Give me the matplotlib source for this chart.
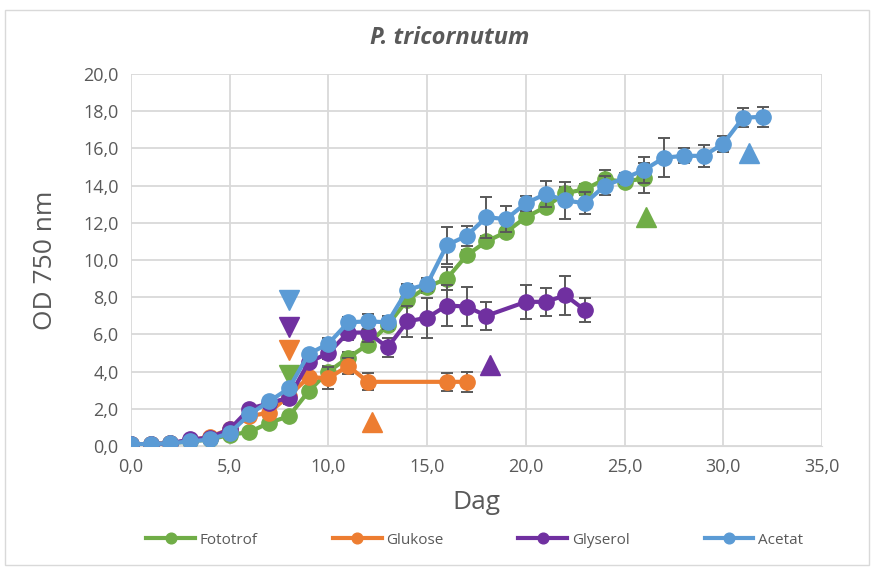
import matplotlib
matplotlib.use("Agg")
import matplotlib.pyplot as plt
from matplotlib.ticker import FuncFormatter, MultipleLocator
from matplotlib.patches import Rectangle

# ---- data ----
foto_x = list(range(0, 27))
foto_y = [0.1, 0.1, 0.15, 0.25, 0.35, 0.6, 0.75, 1.25, 1.6, 2.95, 4.0, 4.75, 5.45, 6.5,
          7.85, 8.55, 9.0, 10.25, 11.0, 11.5, 12.3, 12.85, 13.6, 13.8, 14.35, 14.2, 14.4]
foto_err = [0, 0, 0, 0, 0, 0, 0, 0, 0, 0, 0.3, 0.3, 0.3, 0.3, 0.3, 0.3, 0.6, 0.3, 0.3, 0.2,
            0.2, 0.2, 0.3, 0.3, 0.5, 0.2, 0.8]

gluk_x = [0, 1, 2, 3, 4, 5, 6, 7, 8, 9, 10, 11, 12, 16, 17]
gluk_y = [0.1, 0.1, 0.15, 0.3, 0.5, 0.9, 1.6, 1.8, 2.7, 3.7, 3.65, 4.3, 3.45, 3.45, 3.45]
gluk_err = [0, 0, 0, 0, 0, 0, 0, 0, 0, 0, 0.6, 0.45, 0.45, 0.5, 0.55]

glys_x = list(range(0, 19)) + [20, 21, 22, 23]
glys_y = [0.1, 0.1, 0.15, 0.35, 0.45, 0.9, 2.0, 2.3, 2.6, 4.5, 5.0, 6.1, 6.1, 5.3, 6.7,
          6.9, 7.55, 7.5, 7.0, 7.75, 7.75, 8.1, 7.3]
glys_err = [0, 0, 0, 0, 0, 0, 0, 0, 0.35, 0, 0.3, 0.4, 0.5, 0.5, 0.85, 1.07, 1.1, 1.07,
            0.75, 0.9, 0.75, 1.05, 0.65]

acet_x = list(range(0, 33))
acet_y = [0.1, 0.1, 0.15, 0.25, 0.35, 0.7, 1.7, 2.4, 3.1, 4.95, 5.5, 6.65, 6.7, 6.65, 8.4,
          8.7, 10.8, 11.3, 12.3, 12.2, 13.05, 13.55, 13.2, 13.05, 14.0, 14.4, 14.85, 15.5,
          15.6, 15.6, 16.25, 17.65, 17.7]
acet_err = [0, 0, 0, 0, 0, 0, 0, 0.2, 0.2, 0, 0.3, 0.3, 0.4, 0.35, 0.3, 0.35, 1.0, 0.55,
            1.1, 0.7, 0.4, 0.7, 1.0, 0.6, 0.5, 0.3, 0.7, 1.05, 0.4, 0.6, 0.43, 0.52, 0.55]

# triangle markers (down = addition, up = end)
down_x = [8, 8, 8, 8]
down_y = [3.8, 5.15, 6.4, 7.85]
up_x = [26.1, 12.2, 18.2, 31.3]
up_y = [12.3, 1.3, 4.35, 15.75]

labels = ["Fototrof", "Glukose", "Glyserol", "Acetat"]
colors = ["#70AD47", "#ED7D31", "#7030A0", "#5B9BD5"]

plt.rcParams['font.family'] = ['Open Sans', 'DejaVu Sans']

fig = plt.figure(figsize=(8.76, 5.71), dpi=100)
W, H = 876, 571
ax = fig.add_axes([131 / W, 1 - 446 / H, (822 - 131) / W, (446 - 74) / H])

fig.patches.append(Rectangle((5 / W, 6 / H), 864 / W, 555 / H, transform=fig.transFigure,
                             fill=False, edgecolor="#D9D9D9", linewidth=1))

series = [(foto_x, foto_y, foto_err), (gluk_x, gluk_y, gluk_err),
          (glys_x, glys_y, glys_err), (acet_x, acet_y, acet_err)]
for i, ((xs, ys, es), lab, c) in enumerate(zip(series, labels, colors)):
    ax.errorbar(xs, ys, yerr=es, fmt='none', ecolor="#595959", elinewidth=1.4,
                capsize=4.5, capthick=1.4, zorder=4 + i * 2)
    ax.plot(xs, ys, '-o', color=c, lw=3, markersize=11, label=lab, zorder=5 + i * 2)

for i, c in enumerate(colors):
    ax.plot(down_x[i], down_y[i], marker='v', color=c, markersize=14, linestyle='none', zorder=3)
    ax.plot(up_x[i], up_y[i], marker='^', color=c, markersize=14, linestyle='none', zorder=3)

ax.set_xlim(0, 35)
ax.set_ylim(0, 20)
ax.xaxis.set_major_locator(MultipleLocator(5))
ax.yaxis.set_major_locator(MultipleLocator(2))
fmt = FuncFormatter(lambda v, p: f"{v:.1f}".replace('.', ','))
ax.xaxis.set_major_formatter(fmt)
ax.yaxis.set_major_formatter(fmt)
ax.grid(True, color="#D9D9D9", linewidth=1.3)
ax.set_axisbelow(True)
for s in ax.spines.values():
    s.set_visible(False)
ax.spines['bottom'].set_visible(True)
ax.spines['bottom'].set_color("#D9D9D9")
ax.tick_params(length=0, labelsize=13, colors="#595959", pad=9)
for lbl in ax.get_xticklabels() + ax.get_yticklabels():
    lbl.set_color("#595959")

ax.set_xlabel("Dag", fontsize=19, color="#595959", labelpad=10)
ax.set_ylabel("OD 750 nm", fontsize=19, color="#595959", labelpad=18)
fig.text(450 / W, 1 - 38 / H, "P. tricornutum", ha='center', va='center', fontsize=17,
         fontweight='bold', fontstyle='italic', color="#595959")

handles = ax.get_lines()
leg_h = [h for h in handles if h.get_label() in labels]
fig.legend(leg_h, labels, loc='center', bbox_to_anchor=(0.542, 1 - 540 / H), ncol=4,
           frameon=False, fontsize=11, labelcolor="#595959", handlelength=3.2,
           columnspacing=4.9, handletextpad=0.3, markerscale=0.7)

fig.savefig("out.png", dpi=100)
